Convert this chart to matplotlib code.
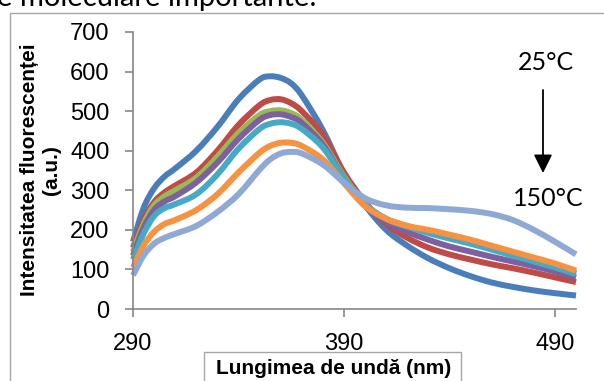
import numpy as np
import matplotlib.pyplot as plt
from matplotlib.patches import Rectangle, PathPatch
from matplotlib.path import Path

# wavelength grid (nm) shared by all spectra
wl = [290, 295, 300, 305, 310, 320, 330, 340, 350, 355, 360, 365, 370,
      380, 390, 400, 410, 420, 430, 440, 450, 460, 470, 480, 490, 500]

# fluorescence intensity (a.u.), 25 C -> 150 C
s1 = [170, 255, 305, 335, 355, 400, 460, 530, 580, 588, 584, 570, 540,
      452, 342, 262, 200, 160, 128, 103, 83, 67, 56, 47, 40, 34]
s2 = [155, 225, 270, 295, 312, 345, 400, 465, 515, 528, 530, 520, 500,
      440, 345, 270, 215, 180, 155, 138, 125, 113, 103, 92, 80, 68]
s3 = [145, 215, 262, 285, 300, 332, 385, 445, 490, 500, 502, 495, 478,
      420, 335, 265, 228, 210, 195, 183, 170, 155, 140, 125, 108, 92]
s4 = [135, 205, 250, 272, 285, 320, 370, 430, 478, 490, 492, 485, 470,
      415, 330, 262, 220, 195, 175, 158, 145, 132, 120, 108, 95, 80]
s5 = [125, 190, 235, 255, 265, 290, 340, 405, 455, 468, 472, 468, 455,
      408, 330, 265, 228, 208, 192, 178, 165, 150, 135, 120, 105, 88]
s6 = [105, 160, 195, 215, 225, 250, 290, 345, 395, 412, 420, 420, 412,
      378, 318, 260, 228, 210, 200, 188, 175, 160, 145, 130, 115, 97]
s7 = [85, 135, 165, 180, 190, 210, 245, 290, 352, 378, 393, 397, 393,
      365, 320, 280, 262, 256, 255, 252, 248, 240, 225, 200, 170, 138]

series = [s1, s2, s3, s4, s5, s6, s7]
colors = ['#4A7EBB', '#BE4B48', '#98B954', '#7D60A0', '#46AAC5', '#F69240', '#8EA9D3']


def smooth_path(x, y):
    # Excel-style smoothed line: Catmull-Rom segments as cubic Bezier curves
    p = np.column_stack([x, y]).astype(float)
    verts = [p[0]]
    codes = [Path.MOVETO]
    n = len(p)
    for i in range(n - 1):
        p0 = p[max(i - 1, 0)]
        p3 = p[min(i + 2, n - 1)]
        c1 = p[i] + (p[i + 1] - p0) / 6
        c2 = p[i + 1] - (p3 - p[i]) / 6
        verts += [c1, c2, p[i + 1]]
        codes += [Path.CURVE4] * 3
    return Path(verts, codes)


W, H = 604, 381
fig = plt.figure(figsize=(W / 100, H / 100), dpi=100)
plt.rcParams['font.family'] = ['Liberation Sans', 'DejaVu Sans']

# outer frame of the pasted chart
fig.patches.append(Rectangle((10 / W, -0.1), 1.0, 1.1 - 13 / H, transform=fig.transFigure,
                             fill=False, edgecolor='#a6a6a6', lw=1.0))
# text of the document above, cut off
fig.text(-3 / W, 1 - 6 / H, 'e moleculare importante.', fontsize=21, family='Lato',
         ha='left', va='baseline')

ax = fig.add_axes([133 / W, 1 - 309 / H, 443 / W, 277 / H])
for s, c in zip(series, colors):
    ax.add_patch(PathPatch(smooth_path(wl, s), facecolor='none', edgecolor=c, lw=4.3,
                           joinstyle='round', capstyle='butt', clip_on=False))

ax.set_xlim(290, 500)
ax.set_ylim(0, 700)
ax.set_xticks([290, 390, 490])
ax.set_yticks(range(0, 701, 100))
for sp in ['top', 'right']:
    ax.spines[sp].set_visible(False)
for sp in ['left', 'bottom']:
    ax.spines[sp].set_color('#868686')
    ax.spines[sp].set_linewidth(1.2)
ax.tick_params(axis='both', direction='out', length=6, width=1.2, color='#868686', labelsize=17)
ax.tick_params(axis='y', pad=11)
ax.tick_params(axis='x', pad=11)

# axis titles
fig.text(41 / W, 1 - 170 / H, 'Intensitatea fluorescenței\n(a.u.)', rotation=90, fontsize=15,
         fontweight='bold', ha='center', va='center', multialignment='center', linespacing=1.2)
fig.patches.append(Rectangle((204 / W, -0.1), 257 / W, 0.1 + 1 - 352 / H, transform=fig.transFigure,
                             fill=False, edgecolor='#a6a6a6', lw=1.0))
fig.text(334 / W, 1 - 368 / H, 'Lungimea de undă (nm)', fontsize=15, fontweight='bold',
         ha='center', va='center')

# temperature annotation
fig.text(546 / W, 1 - 62 / H, '25°C', fontsize=18, family='Lato', ha='center', va='center')
fig.text(548 / W, 1 - 199 / H, '150°C', fontsize=18, family='Lato', ha='center', va='center')
ax.annotate('', xy=(543 / W, 1 - 173 / H), xytext=(543 / W, 1 - 90 / H),
            xycoords='figure fraction', textcoords='figure fraction',
            arrowprops=dict(arrowstyle='-|>', color='black', lw=1.3, mutation_scale=28,
                            shrinkA=0, shrinkB=0))

fig.savefig('out.png', dpi=100)
